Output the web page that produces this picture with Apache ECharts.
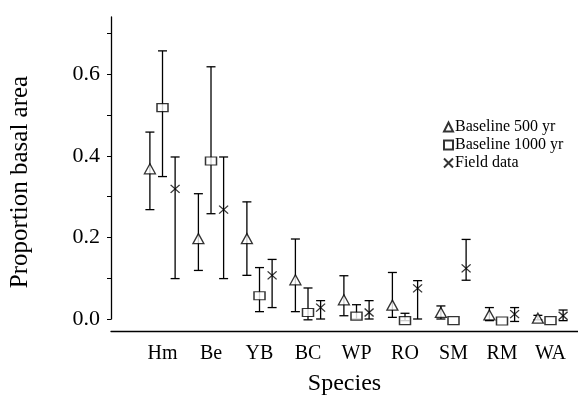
<!DOCTYPE html>
<html>
<head>
<meta charset="utf-8">
<script src="https://cdn.jsdelivr.net/npm/echarts@6/dist/echarts.min.js"></script>
<style>
  html, body { margin: 0; padding: 0; background: #fff; }
  #chart { width: 578px; height: 401px; }
</style>
</head>
<body>
<div id="chart"></div>
<script>
// Species along the x axis
const species = ['Hm', 'Be', 'YB', 'BC', 'WP', 'RO', 'SM', 'RM', 'WA'];

// Baseline 500 yr: mean and error-bar limits
const base500   = [0.368, 0.197, 0.197, 0.096, 0.047, 0.034, 0.016, 0.010, 0.002];
const base500Lo = [0.268, 0.119, 0.107, 0.018, 0.008, 0.004, 0.000, -0.004, -0.002];
const base500Hi = [0.458, 0.307, 0.287, 0.196, 0.106, 0.114, 0.032, 0.028, 0.009];

// Baseline 1000 yr
const base1000   = [0.518, 0.387, 0.057, 0.016, 0.007, -0.004, -0.004, -0.005, -0.004];
const base1000Lo = [0.349, 0.258, 0.018, -0.002, 0.000, -0.004, -0.004, -0.005, -0.004];
const base1000Hi = [0.657, 0.618, 0.126, 0.076, 0.035, 0.014, -0.004, -0.005, -0.004];

// Field data
const field   = [0.319, 0.268, 0.107, 0.028, 0.016, 0.075, 0.124, 0.012, 0.008];
const fieldLo = [0.099, 0.099, 0.028, 0.000, 0.000, 0.000, 0.095, -0.006, -0.004];
const fieldHi = [0.397, 0.397, 0.146, 0.045, 0.045, 0.094, 0.195, 0.028, 0.022];

// Axis ticks
const yLabelTicks = [0, 0.2, 0.4, 0.6];
const yTickMarks  = [0, 0.1, 0.2, 0.3, 0.4, 0.5, 0.6, 0.7];
const xTicks      = [0, 1, 2, 3, 4, 5, 6, 7, 8];

// Horizontal shift of each group's marker inside a species slot
const OFFSET = 0.26;
const FONT = 'Liberation Serif';

function points(vals, shift) {
  return vals.map((v, i) => [i + shift, v]);
}
function bars(lo, hi, shift) {
  return lo.map((l, i) => [i + shift, l, hi[i]]);
}

// Vertical error bar with end caps
function renderBar(params, api) {
  const x = api.value(0), lo = api.value(1), hi = api.value(2);
  const top = api.coord([x, hi]);
  const bot = api.coord([x, lo]);
  if (Math.abs(bot[1] - top[1]) < 1) return;
  const w = 4.5;
  const style = { stroke: '#000', lineWidth: 1.3 };
  return {
    type: 'group',
    children: [
      { type: 'line', shape: { x1: top[0], y1: top[1], x2: bot[0], y2: bot[1] }, style },
      { type: 'line', shape: { x1: top[0] - w, y1: top[1], x2: top[0] + w, y2: top[1] }, style },
      { type: 'line', shape: { x1: bot[0] - w, y1: bot[1], x2: bot[0] + w, y2: bot[1] }, style }
    ]
  };
}

function barSeries(lo, hi, shift) {
  return {
    type: 'custom',
    renderItem: renderBar,
    data: bars(lo, hi, shift),
    clip: false,
    silent: true,
    z: 1
  };
}

const markStyle = { color: '#fff', borderColor: '#000', borderWidth: 1.3 };
const crossPath = 'path://M0,0L10,10M10,0L0,10';

const chart = echarts.init(document.getElementById('chart'), null, { renderer: 'canvas' });
chart.setOption({
  animation: false,
  backgroundColor: '#fff',
  textStyle: { fontFamily: FONT, color: '#000' },
  grid: { left: 111, right: 0, top: 17, bottom: 81, containLabel: false },
  legend: {
    left: 438,
    top: 114,
    orient: 'vertical',
    itemWidth: 9,
    itemHeight: 9,
    itemGap: 2,
    textStyle: { fontFamily: FONT, fontSize: 16, color: '#000', padding: [0, 0, 0, -3] },
    data: [
      { name: 'Baseline 500 yr', icon: 'triangle' },
      { name: 'Baseline 1000 yr', icon: 'rect' },
      { name: 'Field data', icon: crossPath }
    ]
  },
  xAxis: {
    type: 'value',
    min: -1.062,
    max: 8.567,
    offset: 12,
    splitLine: { show: false },
    axisLine: { show: true, onZero: false, lineStyle: { color: '#000', width: 1.3 } },
    axisTick: { show: false },
    axisLabel: {
      customValues: xTicks,
      formatter: v => species[Math.round(v)],
      fontFamily: FONT,
      fontSize: 20,
      color: '#000',
      margin: 13
    },
    name: 'Species',
    nameLocation: 'middle',
    nameGap: 41,
    nameTextStyle: { fontFamily: FONT, fontSize: 24, color: '#000' }
  },
  yAxis: {
    type: 'value',
    min: 0,
    max: 0.74,
    splitLine: { show: false },
    axisLine: { show: true, onZero: false, lineStyle: { color: '#000', width: 1.3 } },
    axisTick: { show: true, customValues: yTickMarks, length: 4, lineStyle: { color: '#000', width: 1 } },
    axisLabel: {
      customValues: yLabelTicks,
      formatter: v => v.toFixed(1),
      fontFamily: FONT,
      fontSize: 22,
      color: '#000',
      margin: 11
    },
    name: 'Proportion basal area',
    nameLocation: 'middle',
    nameGap: 78,
    nameTextStyle: { fontFamily: FONT, fontSize: 25, color: '#000', padding: [0, 28, 0, 0] }
  },
  series: [
    barSeries(base500Lo, base500Hi, -OFFSET),
    barSeries(base1000Lo, base1000Hi, 0),
    barSeries(fieldLo, fieldHi, OFFSET),
    {
      name: 'Baseline 500 yr',
      type: 'scatter',
      symbol: 'triangle',
      symbolSize: [11, 10],
      itemStyle: markStyle,
      data: points(base500, -OFFSET),
      clip: false,
      z: 3
    },
    {
      name: 'Baseline 1000 yr',
      type: 'scatter',
      symbol: 'rect',
      symbolSize: [11, 8],
      itemStyle: markStyle,
      data: points(base1000, 0),
      clip: false,
      z: 3
    },
    {
      name: 'Field data',
      type: 'scatter',
      symbol: crossPath,
      symbolSize: [9, 8],
      itemStyle: markStyle,
      data: points(field, OFFSET),
      clip: false,
      z: 3
    }
  ]
});
</script>
</body>
</html>
